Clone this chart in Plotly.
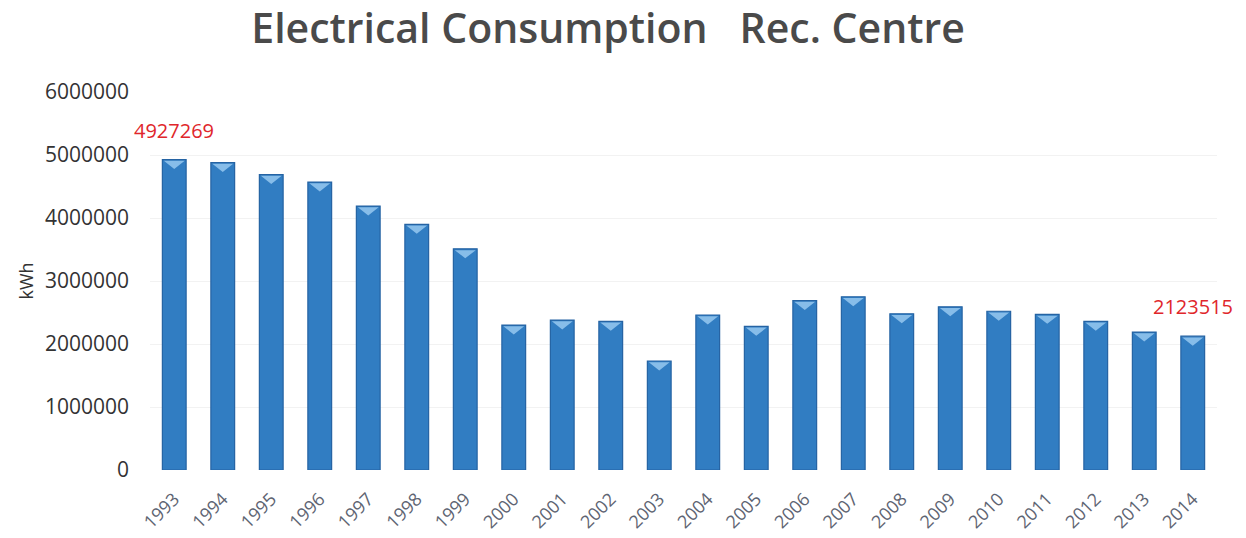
import plotly.graph_objects as go

# Annual electrical consumption of the Rec. Centre (kWh)
years = [str(y) for y in range(1993, 2015)]
consumption = [
    4927269, 4880000, 4690000, 4570000, 4190000, 3900000, 3510000,
    2300000, 2380000, 2360000, 1730000, 2460000, 2280000, 2690000,
    2750000, 2480000, 2590000, 2520000, 2470000, 2360000, 2190000,
    2123515,
]
# Years whose value is printed above the bar
labelled_years = ["1993", "2014"]

y_ticks = [0, 1000000, 2000000, 3000000, 4000000, 5000000, 6000000]

BAR_WIDTH = 0.49
BEVEL_DEPTH = 150000  # depth of the highlight triangle at the bar top, in kWh

fig = go.Figure()

fig.add_trace(go.Bar(
    x=list(range(len(years))),
    y=consumption,
    width=BAR_WIDTH,
    marker=dict(color="#317dc2", line=dict(color="#2563a3", width=1.2)),
    hoverinfo="x+y",
))

# Light bevel triangle at the top of every bar
bx, by = [], []
for i, v in enumerate(consumption):
    half = BAR_WIDTH / 2 - 0.03
    bx += [i - half, i + half, i, i - half, None]
    by += [v - 20000, v - 20000, v - BEVEL_DEPTH, v - 20000, None]
fig.add_trace(go.Scatter(
    x=bx, y=by, mode="lines", fill="toself",
    fillcolor="rgba(150,200,240,0.85)",
    line=dict(width=0, color="rgba(0,0,0,0)"),
    hoverinfo="skip",
))

for yr in labelled_years:
    i = years.index(yr)
    fig.add_annotation(
        x=i, y=consumption[i], text=str(consumption[i]),
        showarrow=False, yanchor="bottom", yshift=14,
        font=dict(family="Open Sans", size=20, color="#e0262b"),
    )

fig.update_layout(
    width=1246, height=538,
    margin=dict(l=150, r=29, t=92, b=68),
    paper_bgcolor="white", plot_bgcolor="white",
    showlegend=False,
    bargap=0.5,
    title=dict(
        text="Electrical Consumption   Rec. Centre",
        x=0.488, xanchor="center", y=0.947, yanchor="middle", yref="container",
        font=dict(family="Open Sans", size=41, color="#4a4a4a", weight=600),
    ),
    xaxis=dict(
        tickmode="array",
        tickvals=list(range(len(years))),
        ticktext=years,
        range=[-0.5, len(years) - 0.5],
        tickangle=-45,
        tickfont=dict(family="Open Sans", size=18, color="#5e6472"),
        ticklabelstandoff=14,
        showgrid=False, zeroline=False, showline=False,
        ticks="", automargin=False,
    ),
    yaxis=dict(
        range=[0, 6000000],
        tickvals=y_ticks,
        ticktext=[str(t) for t in y_ticks],
        tickfont=dict(family="Open Sans", size=21, color="#333333"),
        ticklabelstandoff=20,
        showgrid=True, gridcolor="#f2f2f2", gridwidth=1,
        zeroline=False, showline=False, ticks="", automargin=False,
        title=dict(text="kWh", standoff=6,
                   font=dict(family="Open Sans", size=18, color="#333333")),
    ),
)

fig.write_html("out.html")
